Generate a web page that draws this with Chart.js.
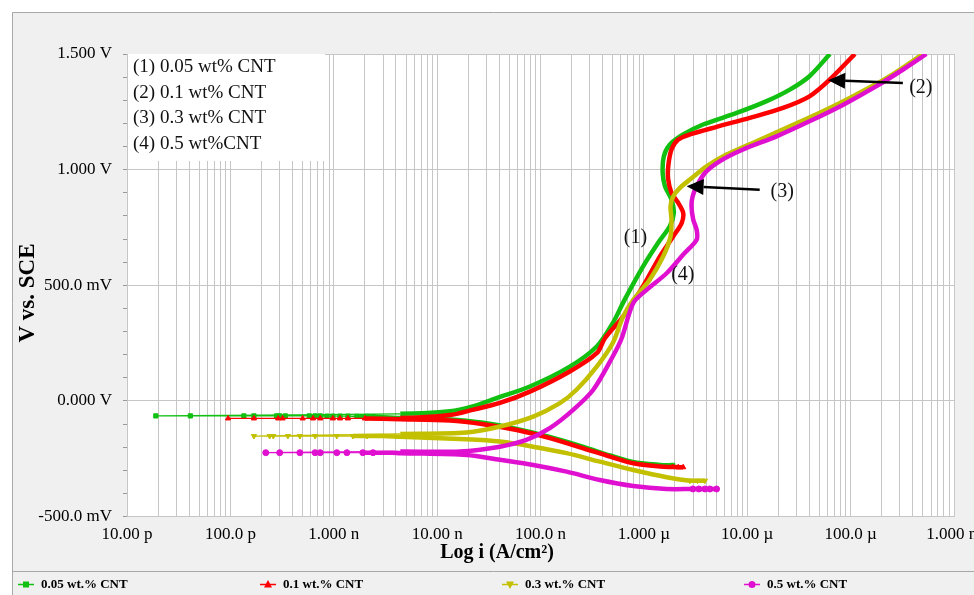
<!DOCTYPE html>
<html lang="en">
  <head>
    <meta charset="UTF-8" />
    <title>Polarization curves - CNT content</title>
    <style>
      * {
        margin: 0;
        padding: 0;
      }
      body {
        background: #ffffff;
      }
      .chartBox {
        width: 974px;
        height: 595px;
      }
    </style>
  </head>
  <body>
    <div class="chartBox">
      <canvas id="myChart"></canvas>
    </div>

    <script src="https://cdn.jsdelivr.net/npm/chart.js"></script>

    <script>
      // data block: current density (A/cm²) and potential (V vs. SCE), in scan order
      // cathodic branch -> scatter around Ecorr -> anodic branch
      const iCnt005 = [
        1.9e-6, 1.43e-6, 7.8e-7, 4.7e-7, 2.6e-7, 1.23e-7, 5.9e-8, 2.8e-8, 1.33e-8, 4.4e-9,
        2.4e-9, 2.1e-9, 1.67e-9, 1.37e-9, 1.15e-9, 9.8e-10, 8.6e-10, 7.4e-10, 6.6e-10, 5.8e-10,
        3.4e-10, 3.0e-10, 2.8e-10, 1.69e-10, 1.35e-10, 4.1e-11, 1.9e-11,
        4.4e-9, 1.33e-8, 2.16e-8, 3.76e-8, 7.9e-8, 1.92e-7, 3.5e-7, 5.0e-7, 6.5e-7, 9.8e-7,
        1.37e-6, 1.78e-6, 1.95e-6, 1.85e-6, 1.6e-6, 1.52e-6, 1.56e-6, 1.78e-6, 2.4e-6, 3.74e-6,
        7.9e-6, 1.54e-5, 2.58e-5, 4.0e-5, 6.3e-5
      ];
      const eCnt005 = [
        -0.279, -0.277, -0.264, -0.236, -0.199, -0.156, -0.121, -0.095, -0.08, -0.074,
        -0.068, -0.067, -0.067, -0.066, -0.066, -0.066, -0.066, -0.065, -0.065, -0.065,
        -0.065, -0.065, -0.065, -0.065, -0.065, -0.065, -0.065,
        -0.056, -0.045, -0.025, 0.012, 0.062, 0.148, 0.235, 0.336, 0.437, 0.581,
        0.683, 0.755, 0.813, 0.87, 0.928, 0.986, 1.058, 1.108, 1.152, 1.195,
        1.245, 1.296, 1.346, 1.404, 1.5
      ];

      const iCnt01 = [
        2.4e-6, 2.15e-6, 1.9e-6, 1.43e-6, 7.9e-7, 4.7e-7, 2.6e-7, 1.23e-7, 5.9e-8, 2.8e-8, 1.33e-8, 4.4e-9,
        2.0e-9, 1.37e-9, 1.15e-9, 9.8e-10, 7.4e-10, 6.3e-10, 5.0e-10, 3.2e-10, 2.9e-10, 1.69e-10, 9.5e-11,
        4.4e-9, 1.33e-8, 2.2e-8, 4.05e-8, 7.9e-8, 1.92e-7, 3.5e-7, 4.2e-7, 6.3e-7, 9.8e-7,
        1.43e-6, 1.92e-6, 2.32e-6, 2.4e-6, 2.15e-6, 1.85e-6, 1.72e-6, 1.72e-6, 1.85e-6, 2.15e-6,
        2.79e-6, 5.05e-6, 1.06e-5, 2.22e-5, 4.0e-5, 6.3e-5, 1.1e-4
      ];
      const eCnt01 = [
        -0.287, -0.287, -0.286, -0.284, -0.27, -0.241, -0.205, -0.161, -0.126, -0.101, -0.085, -0.079,
        -0.076, -0.076, -0.076, -0.076, -0.076, -0.076, -0.076, -0.076, -0.076, -0.076, -0.076,
        -0.074, -0.061, -0.039, -0.009, 0.04, 0.127, 0.206, 0.271, 0.365, 0.495,
        0.625, 0.711, 0.769, 0.813, 0.856, 0.899, 0.957, 1.014, 1.087, 1.13,
        1.152, 1.185, 1.224, 1.267, 1.317, 1.39, 1.5
      ];

      const iCnt03 = [
        3.9e-6, 3.3e-6, 2.79e-6, 1.66e-6, 7.9e-7, 3.75e-7, 1.79e-7, 8.5e-8, 4.05e-8, 1.93e-8, 4.4e-9,
        3.0e-9, 2.1e-9, 1.53e-9, 1.07e-9, 6.6e-10, 4.7e-10, 3.6e-10, 2.6e-10, 2.4e-10, 1.69e-10,
        4.4e-9, 1.93e-8, 4.05e-8, 8.5e-8, 1.54e-7, 2.23e-7, 3.5e-7, 5.0e-7, 6.3e-7, 7.9e-7,
        1.14e-6, 1.54e-6, 1.81e-6, 1.85e-6, 1.81e-6, 1.92e-6, 2.23e-6, 2.79e-6, 4.04e-6, 6.3e-6,
        1.23e-5, 2.58e-5, 5.4e-5, 1.14e-4, 2.39e-4, 5.0e-4
      ];
      const eCnt03 = [
        -0.345, -0.345, -0.345, -0.33, -0.299, -0.263, -0.226, -0.198, -0.176, -0.166, -0.155,
        -0.152, -0.152, -0.152, -0.152, -0.152, -0.152, -0.152, -0.152, -0.152, -0.152,
        -0.143, -0.137, -0.111, -0.068, -0.01, 0.048, 0.148, 0.25, 0.365, 0.437,
        0.524, 0.625, 0.711, 0.784, 0.841, 0.884, 0.921, 0.957, 1.014, 1.065,
        1.123, 1.187, 1.252, 1.325, 1.404, 1.5
      ];

      const iCnt05 = [
        5.05e-6, 4.35e-6, 3.9e-6, 3.4e-6, 2.98e-6, 1.66e-6, 7.9e-7, 3.75e-7, 1.79e-7, 8.5e-8, 4.05e-8, 1.93e-8, 4.4e-9,
        3.7e-9, 3.0e-9, 2.4e-9, 1.91e-9, 1.34e-9, 1.07e-9, 7.4e-10, 6.6e-10, 4.7e-10, 3.0e-10, 2.2e-10,
        4.4e-9, 1.66e-8, 4.05e-8, 7.3e-8, 1.23e-7, 2.07e-7, 3.24e-7, 5.0e-7, 6.1e-7, 7.9e-7,
        1.07e-6, 1.67e-6, 2.44e-6, 3.24e-6, 3.24e-6, 3.0e-6, 2.89e-6, 2.96e-6, 3.24e-6, 3.9e-6,
        5.4e-6, 9.1e-6, 1.92e-5, 4.0e-5, 8.5e-5, 1.78e-4, 3.22e-4, 5.4e-4
      ];
      const eCnt05 = [
        -0.381, -0.381, -0.381, -0.381, -0.381, -0.381, -0.368, -0.342, -0.306, -0.277, -0.255, -0.234, -0.226,
        -0.224, -0.224, -0.224, -0.224, -0.224, -0.224, -0.224, -0.224, -0.224, -0.224, -0.224,
        -0.219, -0.219, -0.198, -0.169, -0.118, -0.039, 0.048, 0.192, 0.271, 0.423,
        0.481, 0.553, 0.636, 0.697, 0.74, 0.784, 0.841, 0.884, 0.928, 0.986,
        1.036, 1.087, 1.144, 1.209, 1.281, 1.361, 1.433, 1.5
      ];

      const seriesLabels = ["0.05 wt.% CNT", "0.1 wt.% CNT", "0.3 wt.% CNT", "0.5 wt.% CNT"];
      const boxLabels = ["(1) 0.05 wt% CNT", "(2) 0.1 wt% CNT", "(3) 0.3 wt% CNT", "(4) 0.5 wt%CNT"];

      const currentTicks = [1e-11, 1e-10, 1e-9, 1e-8, 1e-7, 1e-6, 1e-5, 1e-4, 1e-3];
      const currentTickLabels = ["10.00 p", "100.0 p", "1.000 n", "10.00 n", "100.0 n", "1.000 µ", "10.00 µ", "100.0 µ", "1.000 m"];
      const potentialTicks = [-0.5, 0, 0.5, 1.0, 1.5];
      const potentialTickLabels = ["-500.0 mV", "0.000 V", "500.0 mV", "1.000 V", "1.500 V"];

      // callouts: label, current, potential (placed through the scales)
      const callouts = [
        ["(1)", 8.3e-7, 0.706],
        ["(4)", 2.38e-6, 0.545],
        ["(2)", 4.78e-4, 1.355],
        ["(3)", 2.18e-5, 0.906]
      ];
      // arrows: from [current, potential] to [current, potential]
      const arrows = [
        [[3.2e-4, 1.375], [6.06e-5, 1.387]],
        [[1.32e-5, 0.913], [2.59e-6, 0.928]]
      ];

      const colors = ["#12c012", "#ff0000", "#c2c000", "#e010d0"];
      const markers = [
        { style: "rect", rotation: 0 },
        { style: "triangle", rotation: 0 },
        { style: "triangle", rotation: 180 },
        { style: "circle", rotation: 0 }
      ];
      const tailMarkers = [1, 3, 3, 5];

      const serif = '"Liberation Serif", "Times New Roman", serif';

      const currents = [iCnt005, iCnt01, iCnt03, iCnt05];
      const potentials = [eCnt005, eCnt01, eCnt03, eCnt05];

      const datasets = seriesLabels.map((label, s) => ({
        label,
        data: currents[s].map((x, k) => ({ x, y: potentials[s][k] })),
        showLine: true,
        tension: 0.3,
        borderColor: colors[s],
        backgroundColor: colors[s],
        borderWidth: 4.5,
        pointStyle: markers[s].style,
        rotation: markers[s].rotation,
        pointBackgroundColor: colors[s],
        pointBorderColor: colors[s],
        pointBorderWidth: 1,
        tail: tailMarkers[s],
        order: 4 - s,
        pointRadius: (ctx) => {
          const p = ctx.raw;
          if (!p) return 0;
          return ctx.dataIndex < ctx.dataset.tail || p.x < 2.5e-9 ? 3 : 0;
        },
        segment: {
          borderWidth: (ctx) =>
            ctx.p0.parsed.x < 1.5e-9 || ctx.p1.parsed.x < 1.5e-9 ? 1.3 : 4.5
        }
      }));

      // vertical grid at 1..9 x 10^n
      const logGrid = [];
      for (let n = -11; n < -3; n++) {
        for (let k = 1; k <= 9; k++) logGrid.push(k * Math.pow(10, n));
      }
      logGrid.push(1e-3);

      function drawArrow(ctx, x0, y0, x1, y1) {
        const ang = Math.atan2(y1 - y0, x1 - x0);
        const len = 17, half = 8;
        const bx = x1 - len * Math.cos(ang);
        const by = y1 - len * Math.sin(ang);
        ctx.beginPath();
        ctx.moveTo(x0, y0);
        ctx.lineTo(bx, by);
        ctx.lineWidth = 2.5;
        ctx.strokeStyle = "#000";
        ctx.stroke();
        ctx.beginPath();
        ctx.moveTo(x1, y1);
        ctx.lineTo(bx + half * Math.sin(ang), by - half * Math.cos(ang));
        ctx.lineTo(bx - half * Math.sin(ang), by + half * Math.cos(ang));
        ctx.closePath();
        ctx.fillStyle = "#000";
        ctx.fill();
      }

      function drawMarker(ctx, s, x, y) {
        const r = 3.5;
        ctx.fillStyle = colors[s];
        ctx.beginPath();
        if (s === 0) {
          ctx.rect(x - 3, y - 3, 6, 6);
        } else if (s === 1) {
          ctx.moveTo(x, y - r - 1);
          ctx.lineTo(x + r + 0.5, y + r - 0.5);
          ctx.lineTo(x - r - 0.5, y + r - 0.5);
        } else if (s === 2) {
          ctx.moveTo(x, y + r + 1);
          ctx.lineTo(x + r + 0.5, y - r + 0.5);
          ctx.lineTo(x - r - 0.5, y - r + 0.5);
        } else {
          ctx.arc(x, y, r, 0, Math.PI * 2);
        }
        ctx.closePath();
        ctx.fill();
      }

      const framePlugin = {
        id: "frame",
        beforeDraw(chart) {
          const { ctx, width, height, chartArea: a } = chart;
          ctx.save();
          ctx.fillStyle = "#ffffff";
          ctx.fillRect(0, 0, width, height);
          ctx.fillStyle = "#f0f0f0";
          ctx.fillRect(13, 13, width - 13, height - 13);
          ctx.strokeStyle = "#a8a8a8";
          ctx.lineWidth = 1;
          ctx.beginPath();
          ctx.moveTo(12.5, height);
          ctx.lineTo(12.5, 12.5);
          ctx.lineTo(width, 12.5);
          ctx.moveTo(13, 571.5);
          ctx.lineTo(width, 571.5);
          ctx.stroke();
          ctx.fillStyle = "#ffffff";
          ctx.fillRect(a.left, a.top, a.right - a.left, a.bottom - a.top);
          ctx.restore();
        },
        afterDraw(chart) {
          const { ctx, scales } = chart;
          const a = chart.chartArea;
          const px = (v) => scales.x.getPixelForValue(v);
          const py = (v) => scales.y.getPixelForValue(v);
          ctx.save();

          // inset key box
          ctx.fillStyle = "#ffffff";
          ctx.fillRect(a.left + 1, a.top, 197, 107);
          ctx.fillStyle = "#111";
          ctx.font = "19px " + serif;
          ctx.textAlign = "left";
          ctx.textBaseline = "middle";
          boxLabels.forEach((t, k) => ctx.fillText(t, a.left + 6, a.top + 13 + k * 25.7));

          // callout labels
          ctx.font = "20px " + serif;
          ctx.textAlign = "center";
          callouts.forEach(([t, i, e]) => ctx.fillText(t, px(i), py(e)));

          arrows.forEach(([from, to]) =>
            drawArrow(ctx, px(from[0]), py(from[1]), px(to[0]), py(to[1]))
          );

          // axis titles
          ctx.fillStyle = "#000";
          ctx.font = "bold 20px " + serif;
          ctx.fillText("Log i (A/cm²)", 497, 553);
          ctx.save();
          ctx.translate(28, 293);
          ctx.rotate(-Math.PI / 2);
          ctx.font = "bold 23px " + serif;
          ctx.fillText("V vs. SCE", 0, 0);
          ctx.restore();

          // bottom legend
          const lx = [26, 268, 510, 752];
          ctx.font = "bold 13px " + serif;
          ctx.textAlign = "left";
          seriesLabels.forEach((t, s) => {
            ctx.strokeStyle = colors[s];
            ctx.lineWidth = 1.5;
            ctx.beginPath();
            ctx.moveTo(lx[s] - 8, 584.5);
            ctx.lineTo(lx[s] + 8, 584.5);
            ctx.stroke();
            drawMarker(ctx, s, lx[s], 584.5);
            ctx.fillStyle = "#000";
            ctx.fillText(t, lx[s] + 15, 585);
          });
          ctx.restore();
        }
      };

      // config block
      const config = {
        type: "scatter",
        data: { datasets },
        options: {
          responsive: true,
          maintainAspectRatio: false,
          animation: false,
          layout: { padding: { left: 0, top: 54, right: 20, bottom: 0 } },
          plugins: {
            legend: { display: false },
            tooltip: { enabled: false }
          },
          scales: {
            x: {
              type: "logarithmic",
              min: 1e-11,
              max: 1e-3,
              border: { display: false },
              grid: { color: "#c6c6c6", lineWidth: 1, drawTicks: false },
              afterBuildTicks: (scale) => {
                scale.ticks = logGrid.map((v) => ({ value: v }));
              },
              afterFit: (scale) => {
                scale.height = 78.5;
                scale.paddingLeft = 0;
                scale.paddingRight = 0;
              },
              ticks: {
                autoSkip: false,
                maxRotation: 0,
                padding: 8,
                color: "#000",
                font: { family: serif, size: 17 },
                callback: (value) => {
                  const k = currentTicks.findIndex(
                    (t) => Math.abs(Math.log10(value) - Math.log10(t)) < 1e-6
                  );
                  return k >= 0 ? currentTickLabels[k] : "";
                }
              }
            },
            y: {
              type: "linear",
              min: -0.5,
              max: 1.5,
              border: { display: false },
              grid: {
                lineWidth: 1,
                tickLength: 4,
                color: (ctx) =>
                  ctx.tick && Math.round(ctx.tick.value * 10) % 5 === 0 ? "#c6c6c6" : "rgba(0,0,0,0)",
                tickColor: "#9a9a9a"
              },
              afterFit: (scale) => {
                scale.width = 127;
                scale.paddingTop = 0;
                scale.paddingBottom = 0;
              },
              ticks: {
                stepSize: 0.1,
                autoSkip: false,
                padding: 11,
                color: "#000",
                font: { family: serif, size: 17 },
                callback: (value) => {
                  const k = potentialTicks.findIndex((t) => Math.abs(t - value) < 1e-6);
                  return k >= 0 ? potentialTickLabels[k] : "";
                }
              }
            }
          }
        },
        plugins: [framePlugin]
      };

      // init render block
      const ctx = document.getElementById("myChart");
      const myChart = new Chart(ctx, config);
    </script>
  </body>
</html>
